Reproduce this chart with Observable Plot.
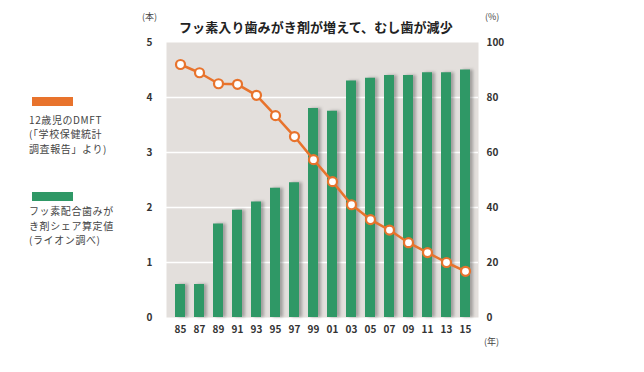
<!DOCTYPE html>
<html><head><meta charset="utf-8">
<script src="https://cdn.jsdelivr.net/npm/d3@7"></script>
<script src="https://cdn.jsdelivr.net/npm/@observablehq/plot@0.6"></script>
<style>
body{margin:0;background:#fff;font-family:"Noto Sans CJK JP","Noto Sans",sans-serif;}
#wrap{position:relative;width:644px;height:372px;overflow:hidden;}
#wrap svg{position:absolute;left:0;top:0;}
.t{position:absolute;color:#333;white-space:nowrap;}
.title{left:179px;top:17px;font-size:13px;font-weight:bold;color:#222;letter-spacing:0.1px;}
.unit{font-size:9px;color:#444;line-height:11px;}
.sw{position:absolute;width:41px;height:9px;left:32px;}
.leg{left:29px;font-size:10px;line-height:14.5px;height:14.5px;color:#444;letter-spacing:0.6px;}
</style>
</head><body>
<div id="wrap"></div>
<script>
const years = ["85","87","89","91","93","95","97","99","01","03","05","07","09","11","13","15"];
const shareValues = [12,12,34,39,42,47,49,76,75,86,87,88,88,89,89,90];
const dmftValues = [4.6,4.45,4.25,4.24,4.04,3.67,3.29,2.87,2.47,2.05,1.78,1.59,1.36,1.18,1.00,0.84];
const leftTicks = [0,1,2,3,4,5];
const rightTicks = [0,20,40,60,80,100];
const titleText = "フッ素入り歯みがき剤が増えて、むし歯が減少";
const legendDmft = ["12歳児のDMFT","(「学校保健統計","調査報告」より)"];
const legendShare = ["フッ素配合歯みが","き剤シェア算定値","(ライオン調べ)"];

const data = years.map((y,i)=>({year:y, share:shareValues[i], dmft:dmftValues[i]}));
const green = "#2f9866", orange = "#e8732c";

const plot = Plot.plot({
  width:644, height:372,
  marginLeft:166, marginRight:166, marginTop:42, marginBottom:55,
  style:{fontFamily:'"Noto Sans CJK JP","Noto Sans",sans-serif', fontSize:"10px", color:"#333", background:"transparent"},
  x:{type:"band", domain:years, paddingInner:0.5, paddingOuter:0.2},
  y:{domain:[0,100]},
  marks:[
    Plot.frame({fill:"#e3dfdc", stroke:null}),
    Plot.ruleY([20,40,60,80],{stroke:"#ffffff", strokeWidth:1.5}),
    Plot.barY(data,{x:"year", y:"share", fill:"#555", fillOpacity:0.45, dx:3, dy:0}),
    Plot.barY(data,{x:"year", y:"share", fill:green}),
    Plot.line(data,{x:"year", y:d=>d.dmft*20, stroke:orange, strokeWidth:2.5}),
    Plot.dot(data,{x:"year", y:d=>d.dmft*20, r:4.5, fill:"white", stroke:orange, strokeWidth:2.2}),
    Plot.axisY(leftTicks.map(v=>v*20),{anchor:"left", tickSize:0, tickPadding:14, tickFormat:d=>String(d/20), label:null, fontWeight:"bold"}),
    Plot.axisY(rightTicks,{anchor:"right", tickSize:0, tickPadding:8, label:null, textAnchor:"start", fontWeight:"bold"}),
    Plot.axisX({tickSize:0, tickPadding:8, label:null, fontWeight:"bold"})
  ]
});
const wrap = document.getElementById("wrap");
wrap.appendChild(plot);
// blur the shadow bars
const bars = plot.querySelectorAll('g[aria-label="bar"]');
if (bars.length) bars[0].style.filter = "blur(1.5px)";

function addText(cls, text, left, top){
  const d = document.createElement("div");
  d.className = "t " + cls;
  d.textContent = text;
  if (left!=null) d.style.left = left+"px";
  if (top!=null) d.style.top = top+"px";
  wrap.appendChild(d);
  return d;
}
addText("title", titleText);
addText("unit", "(本)", 142, 11);
addText("unit", "(%)", 485, 11);
addText("unit", "(年)", 484, 336);
const s1 = document.createElement("div"); s1.className="sw"; s1.style.top="97px"; s1.style.background=orange; wrap.appendChild(s1);
const s2 = document.createElement("div"); s2.className="sw"; s2.style.top="192px"; s2.style.background=green; wrap.appendChild(s2);
legendDmft.forEach((s,i)=>addText("leg", s, null, 112.5 + i*14.5));
legendShare.forEach((s,i)=>addText("leg", s, null, 204 + i*14.5));
</script>
</body></html>
